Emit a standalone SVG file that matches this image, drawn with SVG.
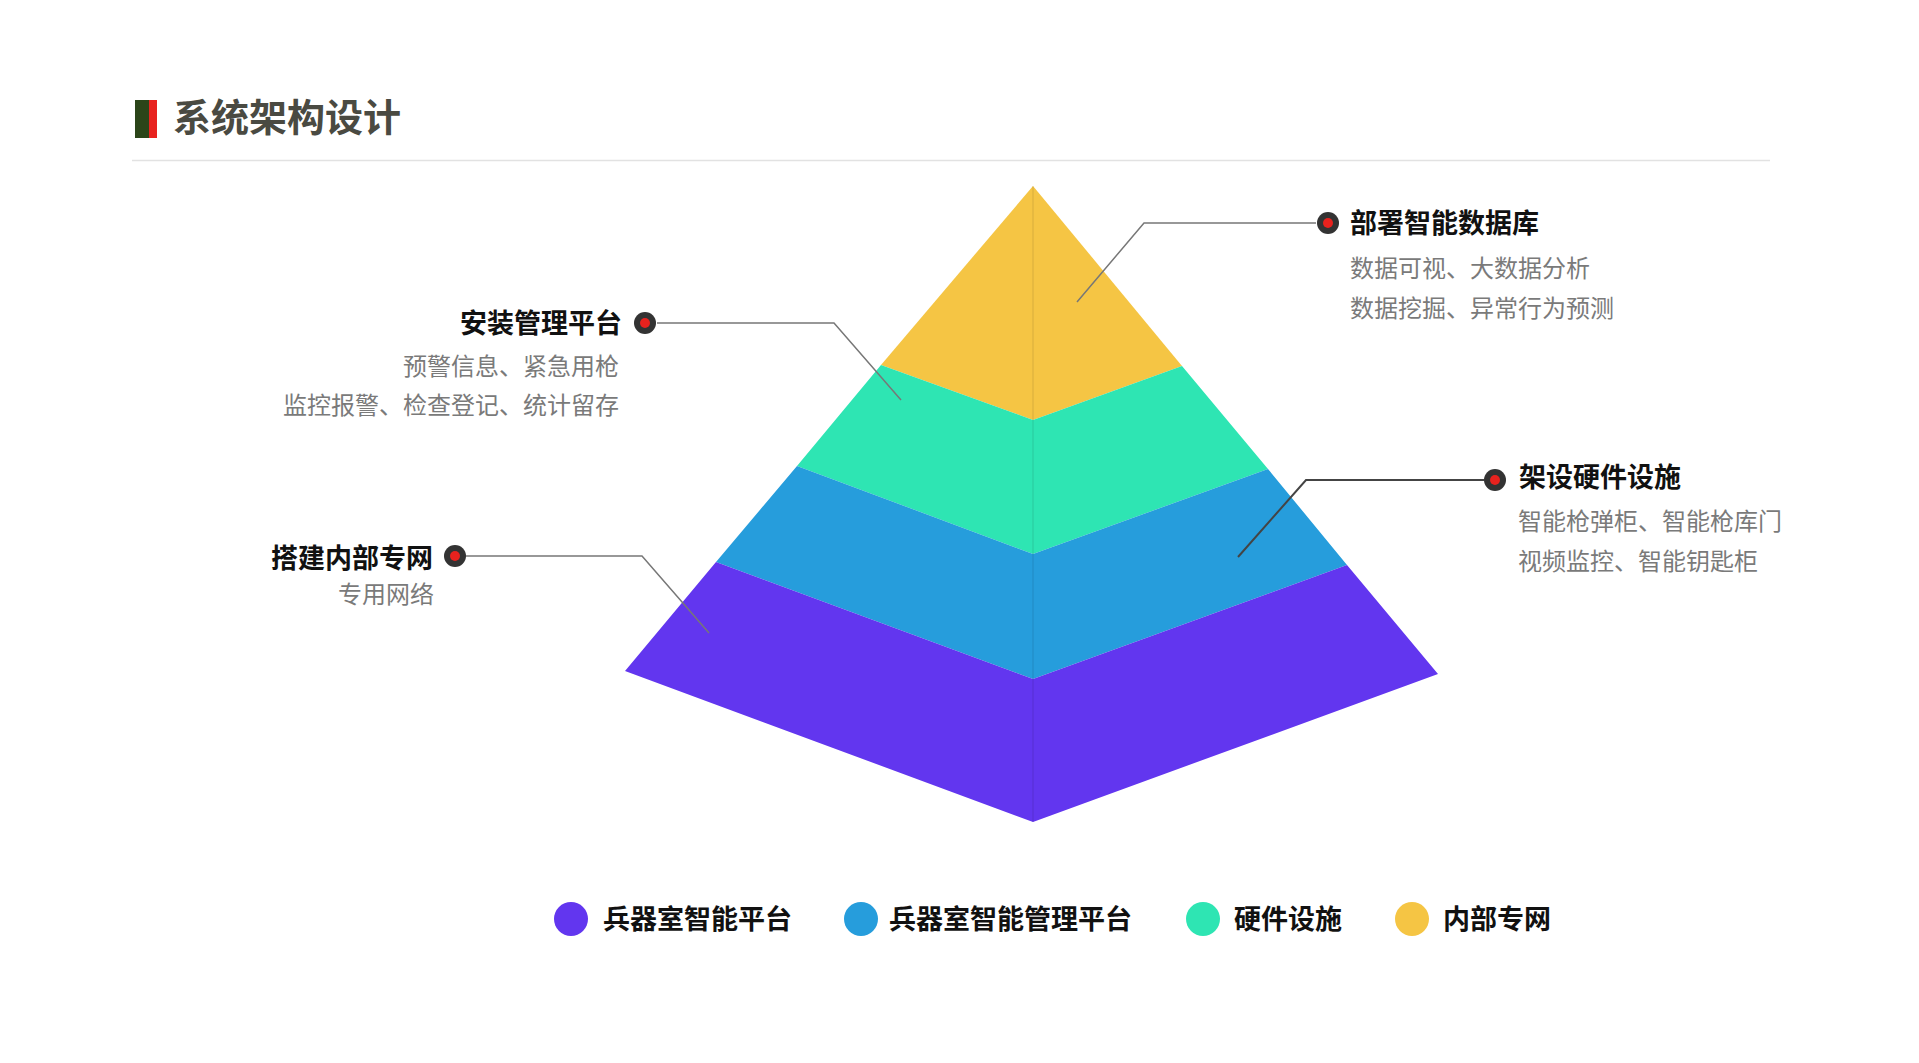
<svg xmlns="http://www.w3.org/2000/svg" width="1919" height="1063" viewBox="0 0 1919 1063">
<style>
text{font-family:"Noto Sans CJK SC","Noto Sans",sans-serif}
.head{font-size:38px;font-weight:700;fill:#4a4a42}
.lbl{font-size:27px;font-weight:700;fill:#111}
.sub{font-size:24px;font-weight:400;fill:#7a7a7a}
.leg{font-size:27px;font-weight:700;fill:#111}
.conn{fill:none;stroke:#777;stroke-width:1.5}
.dotO{fill:#333}
.dotI{fill:#e8221e}
</style>
<rect width="1919" height="1063" fill="#fff"/>
<g id="title">
<rect x="135" y="100" width="14" height="38" fill="#2b4519"/>
<rect x="149" y="100" width="8" height="38" fill="#e8231f"/>
<text class="head" x="173" y="131">系统架构设计</text>
<line x1="132" y1="160.5" x2="1770" y2="160.5" stroke="#e2e2e2" stroke-width="1.5"/>
</g>
<g id="pyramid">
<polygon id="layer-yellow" points="1033,186 1182,366 1033,420 881,365" fill="#f5c544"/>
<polygon id="layer-teal" points="881,365 1033,420 1182,366 1268,469 1033,554 797,466" fill="#2ee5b3"/>
<polygon id="layer-blue" points="797,466 1033,554 1268,469 1347,565 1033,679 716,562" fill="#269ddc"/>
<polygon id="layer-purple" points="716,562 1033,679 1347,565 1438,674 1033,822 625,671" fill="#6236ef"/>
<line x1="1033" y1="186" x2="1033" y2="822" stroke="#000" stroke-opacity="0.1" stroke-width="1.2"/>
</g>
<g id="connectors">
<polyline class="conn" points="657,323 834,323 901,400"/>
<polyline class="conn" points="466,556 642,556 709,633"/>
<polyline class="conn" points="1316,223 1144,223 1077,302"/>
<polyline class="conn" points="1484,480 1306,480 1238,557" style="stroke:#444;stroke-width:2"/>
</g>
<g id="node-anzhuang">
<circle class="dotO" cx="645" cy="323" r="11"/>
<circle class="dotI" cx="645" cy="323" r="5"/>
<text class="lbl" x="622" y="333" text-anchor="end">安装管理平台</text>
<text class="sub" x="619" y="375" text-anchor="end">预警信息、紧急用枪</text>
<text class="sub" x="619" y="414" text-anchor="end">监控报警、检查登记、统计留存</text>
</g>
<g id="node-dajian">
<circle class="dotO" cx="455" cy="556" r="11"/>
<circle class="dotI" cx="455" cy="556" r="5"/>
<text class="lbl" x="433" y="568" text-anchor="end">搭建内部专网</text>
<text class="sub" x="434" y="603" text-anchor="end">专用网络</text>
</g>
<g id="node-bushu">
<circle class="dotO" cx="1328" cy="223" r="11"/>
<circle class="dotI" cx="1328" cy="223" r="5"/>
<text class="lbl" x="1350" y="233">部署智能数据库</text>
<text class="sub" x="1350" y="277">数据可视、大数据分析</text>
<text class="sub" x="1350" y="317">数据挖掘、异常行为预测</text>
</g>
<g id="node-jiashe">
<circle class="dotO" cx="1495" cy="480" r="11"/>
<circle class="dotI" cx="1495" cy="480" r="5"/>
<text class="lbl" x="1519" y="487">架设硬件设施</text>
<text class="sub" x="1518" y="530">智能枪弹柜、智能枪库门</text>
<text class="sub" x="1518" y="570">视频监控、智能钥匙柜</text>
</g>
<g id="legend">
<circle cx="571" cy="919" r="17" fill="#6236ef"/>
<text class="leg" x="603" y="929">兵器室智能平台</text>
<circle cx="861" cy="919" r="17" fill="#269ddc"/>
<text class="leg" x="889" y="929">兵器室智能管理平台</text>
<circle cx="1203" cy="919" r="17" fill="#2ee5b3"/>
<text class="leg" x="1234" y="929">硬件设施</text>
<circle cx="1412" cy="919" r="17" fill="#f5c544"/>
<text class="leg" x="1443" y="929">内部专网</text>
</g>
</svg>
